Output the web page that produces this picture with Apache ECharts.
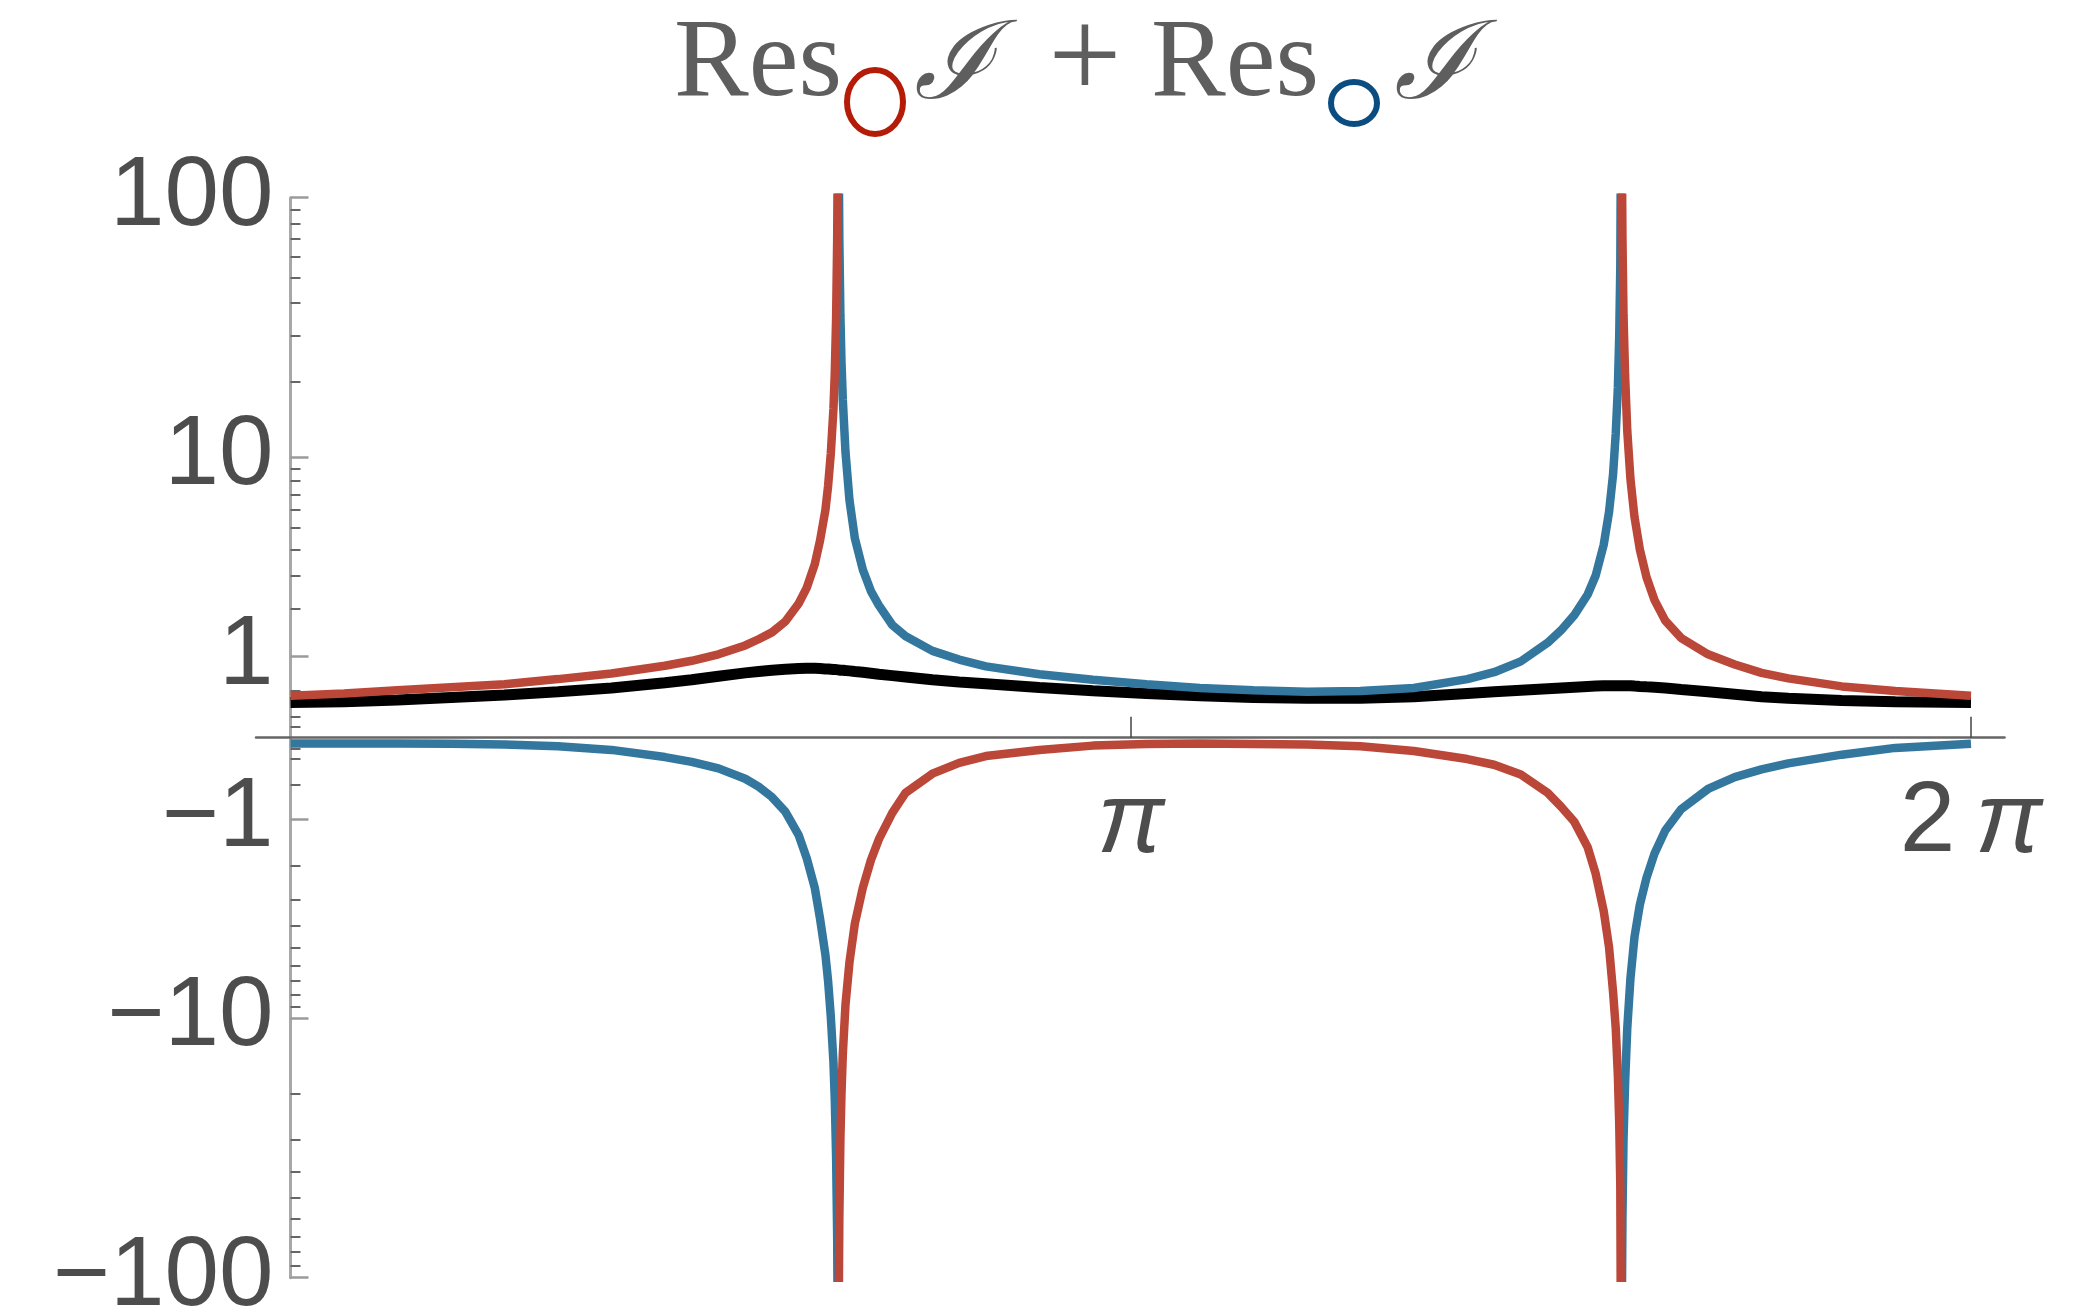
<!DOCTYPE html>
<html>
<head>
<meta charset="utf-8">
<title>Res + Res</title>
<script src="https://cdn.jsdelivr.net/npm/echarts@6/dist/echarts.min.js"></script>
<style>
  html, body { margin: 0; padding: 0; background: #ffffff; }
  #chart { width: 2095px; height: 1308px; }
</style>
</head>
<body>
<div id="chart"></div>
<script>
// Sample positions along the period 0 .. 2π (denser around the two poles)
const xs = [
  0, 0.2, 0.4, 0.6, 0.8, 1.0, 1.2, 1.4,
  1.5, 1.6, 1.7, 1.75, 1.8, 1.85, 1.9, 1.93, 1.96, 1.98,
  2.0, 2.01, 2.02, 2.03, 2.035, 2.04, 2.044, 2.046,
  2.048,
  2.05, 2.052, 2.056, 2.06, 2.065, 2.075, 2.09, 2.11, 2.14, 2.17,
  2.2, 2.25, 2.3, 2.4, 2.5, 2.6,
  2.8, 3.0, 3.2, 3.4, 3.6, 3.8, 4.0, 4.2,
  4.4, 4.5, 4.6, 4.7, 4.75, 4.8, 4.85,
  4.88, 4.91, 4.93, 4.945, 4.955, 4.963, 4.968, 4.972, 4.974,
  4.976,
  4.978, 4.98, 4.984, 4.99, 4.998, 5.01, 5.025, 5.045,
  5.07, 5.1, 5.14, 5.2, 5.3, 5.4, 5.5, 5.6, 5.8, 6.0, 6.2832
];

// Residue at the red contour (null at the poles)
const resRed = [
  0.43, 0.46, 0.50, 0.54, 0.58, 0.65, 0.73, 0.85,
  0.93, 1.04, 1.20, 1.32, 1.46, 1.70, 2.15, 2.6, 3.4, 4.4,
  6.0, 7.6, 10.3, 15.6, 21.5, 35, 70, 140,
  null,
  -120, -60, -30, -20, -14, -8.8, -5.8, -3.9, -2.6, -1.85,
  -1.38, -0.9, -0.6, -0.36, -0.24, -0.17,
  -0.11, -0.07, -0.055, -0.05, -0.055, -0.06, -0.075, -0.12,
  -0.2, -0.26, -0.37, -0.6, -0.8, -1.05, -1.55,
  -2.2, -3.4, -5.0, -7.8, -11, -17, -26, -45, -150,
  null,
  140, 71, 36, 21, 12.8, 8.1, 5.6, 4.0,
  2.94, 2.24, 1.72, 1.34, 1.04, 0.87, 0.74, 0.66, 0.55, 0.49, 0.43
];

// Residue at the blue contour (null at the poles)
const resBlue = [
  -0.05, -0.05, -0.05, -0.052, -0.06, -0.075, -0.11, -0.18,
  -0.23, -0.3, -0.42, -0.52, -0.66, -0.88, -1.3, -1.8, -2.6, -3.7,
  -5.4, -7.0, -9.8, -15, -21, -35, -70, -150,
  null,
  140, 70, 36, 24, 17, 10.5, 6.6, 4.5, 3.2, 2.5,
  2.1, 1.62, 1.38, 1.1, 0.95, 0.84,
  0.72, 0.64, 0.58, 0.53, 0.5, 0.48, 0.49, 0.53,
  0.65, 0.75, 0.92, 1.25, 1.5, 1.85, 2.4,
  3.0, 4.2, 5.9, 8.5, 12.5, 19, 30, 55, 150,
  null,
  -120, -60, -30, -18, -11, -6.8, -4.5, -3.17,
  -2.31, -1.69, -1.21, -0.84, -0.55, -0.4, -0.31, -0.245, -0.156, -0.091, -0.054
];

// Sum of both residues
const resSum = [
  0.35, 0.36, 0.38, 0.41, 0.44, 0.48, 0.53, 0.60,
  0.64, 0.69, 0.74, 0.76, 0.78, 0.795, 0.805, 0.81, 0.81, 0.805,
  0.80, 0.80, 0.795, 0.79, 0.79, 0.79, 0.79, 0.785,
  0.785,
  0.785, 0.785, 0.78, 0.78, 0.78, 0.775, 0.77, 0.76, 0.75, 0.735,
  0.72, 0.70, 0.68, 0.64, 0.61, 0.585,
  0.535, 0.495, 0.46, 0.43, 0.41, 0.40, 0.40, 0.42,
  0.46, 0.48, 0.50, 0.52, 0.53, 0.54, 0.55,
  0.555, 0.56, 0.56, 0.56, 0.56, 0.56, 0.56, 0.56, 0.56,
  0.56,
  0.56, 0.56, 0.56, 0.56, 0.56, 0.56, 0.555, 0.55,
  0.545, 0.54, 0.53, 0.51, 0.48, 0.45, 0.42, 0.40, 0.375, 0.36, 0.35
];

// Axis ticks and labels
const yTickValues = [100, 10, 1, -1, -10, -100];
const yTickLabels = ['100', '10', '1', '\u22121', '\u221210', '\u2212100'];
const yMinorValues = [
  0.1, 0.2, 0.5, 2, 3, 4, 5, 6, 7, 8, 9, 20, 30, 40, 50, 60, 70, 80, 90,
  -0.1, -0.2, -0.5, -2, -3, -4, -5, -6, -7, -8, -9, -20, -30, -40, -50, -60, -70, -80, -90
];
const xTickValues = [Math.PI, 2 * Math.PI];
const xTickLabels = ['{i|\u03c0}', '{n|2\u2009}{i|\u03c0}'];

// Symmetric logarithmic scale: sign(v) * log10(1 + |v|)
function symLog(v) {
  return Math.sign(v) * Math.log10(1 + Math.abs(v));
}
const yLimit = symLog(100);

function toSeries(values) {
  return xs.map((x, i) => [x, values[i] == null ? '-' : symLog(values[i])]);
}
function pickLabel(val, values, labels, fn) {
  const i = values.findIndex(v => Math.abs(fn(v) - val) < 1e-6);
  return i >= 0 ? labels[i] : '';
}

// Plot frame: the axes cross at (0, 0), a little inside the frame
const GRID = { left: 256, right: 90.5, top: 197.7, bottom: 30.3 };
const X_MIN = -0.129;
const X_MAX = 2 * Math.PI + 0.1253;
const chartW = 2095, chartH = 1308;
const plotW = chartW - GRID.left - GRID.right;
const plotH = chartH - GRID.top - GRID.bottom;
const yAxisShift = plotW * (0 - X_MIN) / (X_MAX - X_MIN);   // px from left frame edge to x = 0
const xAxisShift = plotH / 2;                               // px from bottom frame edge to y = 0

const RED = '#bb4739';
const BLUE = '#33779f';
const LABEL_FONT = "'Liberation Sans', Arial, sans-serif";
const TITLE_FONT = "'Liberation Serif', 'Times New Roman', serif";
const TITLE_COLOR = '#5e5e5e';

const chart = echarts.init(document.getElementById('chart'), null, { renderer: 'canvas' });

chart.setOption({
  animation: false,
  backgroundColor: '#ffffff',
  grid: Object.assign({ containLabel: false, outerBoundsMode: 'none' }, GRID),
  xAxis: {
    type: 'value',
    position: 'bottom',
    offset: -xAxisShift,
    min: X_MIN,
    max: X_MAX,
    axisLine: { onZero: false, lineStyle: { color: '#666666', width: 2.5 } },
    axisTick: {
      show: true, inside: true, length: 21, customValues: xTickValues,
      lineStyle: { color: '#444444', width: 1.5 }
    },
    axisLabel: {
      show: true,
      customValues: xTickValues,
      margin: 36,
      formatter: val => pickLabel(val, xTickValues, xTickLabels, v => v),
      rich: {
        i: { fontFamily: LABEL_FONT, fontStyle: 'italic', fontSize: 100, color: '#4d4d4d' },
        n: { fontFamily: LABEL_FONT, fontSize: 100, color: '#4d4d4d' }
      }
    },
    splitLine: { show: false }
  },
  yAxis: [
    {
      type: 'value',
      position: 'left',
      offset: -yAxisShift,
      min: -yLimit,
      max: yLimit,
      axisLine: { show: true, onZero: false, lineStyle: { color: '#a8a8a8', width: 3 } },
      axisTick: {
        show: true, inside: true, length: 18,
        customValues: yTickValues.map(symLog),
        lineStyle: { color: '#9a9a9a', width: 2.5 }
      },
      axisLabel: {
        show: true,
        customValues: yTickValues.map(symLog),
        margin: 17,
        padding: [0, 0, 12, 0],
        fontFamily: LABEL_FONT,
        fontSize: 98,
        color: '#4d4d4d',
        formatter: val => pickLabel(val, yTickValues, yTickLabels, symLog)
      },
      splitLine: { show: false }
    },
    {
      type: 'value',
      position: 'left',
      offset: -yAxisShift,
      min: -yLimit,
      max: yLimit,
      axisLine: { show: false, onZero: false },
      axisTick: {
        show: true, inside: true, length: 10,
        customValues: yMinorValues.map(symLog),
        lineStyle: { color: '#666666', width: 2 }
      },
      axisLabel: { show: false },
      splitLine: { show: false }
    }
  ],
  series: [
    {
      name: 'sum', type: 'line', data: toSeries(resSum),
      showSymbol: false, smooth: false, connectNulls: false,
      lineStyle: { color: '#000000', width: 11 }, z: 3, silent: true
    },
    {
      name: 'blue', type: 'line', data: toSeries(resBlue),
      showSymbol: false, smooth: false, connectNulls: false,
      lineStyle: { color: BLUE, width: 8.5 }, z: 4, silent: true
    },
    {
      name: 'red', type: 'line', data: toSeries(resRed),
      showSymbol: false, smooth: false, connectNulls: false,
      lineStyle: { color: RED, width: 8.5 }, z: 5, silent: true
    }
  ],
  graphic: [
    { type: 'text', x: 674, y: 66, style: { text: 'Res', font: '112px ' + TITLE_FONT, fill: TITLE_COLOR, align: 'left', verticalAlign: 'middle' } },
    { type: 'ellipse', shape: { cx: 875, cy: 102, rx: 28, ry: 32 }, style: { fill: 'none', stroke: '#b41c08', lineWidth: 6 } },
    { type: 'text', x: 914, y: 70, style: { text: '\u2110', font: 'italic 108px ' + TITLE_FONT, fill: TITLE_COLOR, align: 'left', verticalAlign: 'middle' } },
    { type: 'text', x: 1085, y: 64, style: { text: '+', font: '130px ' + TITLE_FONT, fill: TITLE_COLOR, align: 'center', verticalAlign: 'middle' } },
    { type: 'text', x: 1151, y: 66, style: { text: 'Res', font: '112px ' + TITLE_FONT, fill: TITLE_COLOR, align: 'left', verticalAlign: 'middle' } },
    { type: 'ellipse', shape: { cx: 1354, cy: 103, rx: 23, ry: 21 }, style: { fill: 'none', stroke: '#0b4d80', lineWidth: 6 } },
    { type: 'text', x: 1394, y: 70, style: { text: '\u2110', font: 'italic 108px ' + TITLE_FONT, fill: TITLE_COLOR, align: 'left', verticalAlign: 'middle' } }
  ]
});
</script>
</body>
</html>
